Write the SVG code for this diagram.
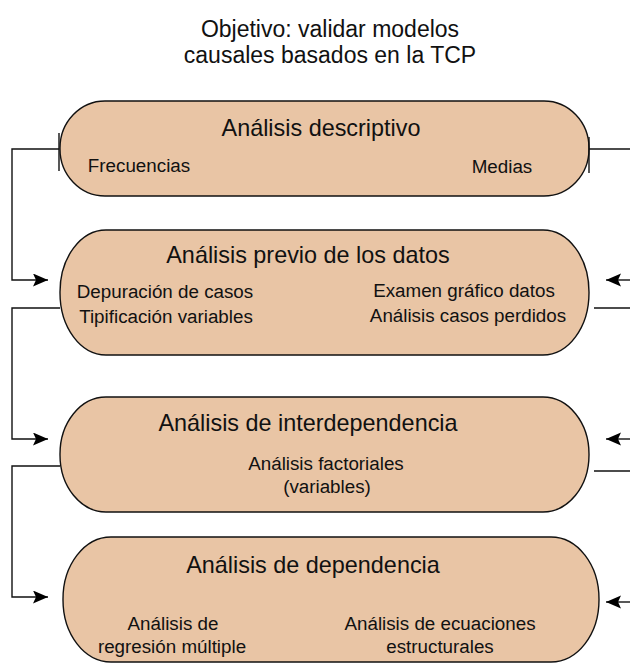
<svg xmlns="http://www.w3.org/2000/svg" width="630" height="665" viewBox="0 0 630 665">
<defs>
<style>
text{font-family:"Liberation Sans",Arial,Helvetica,sans-serif;fill:#111;}
.t{font-size:23px;text-anchor:middle;}
.h{font-size:23.4px;text-anchor:middle;}
.s{font-size:18.8px;text-anchor:middle;}
.node{fill:#E9C5A5;stroke:#111;stroke-width:1.4;}
.c{fill:none;stroke:#111;stroke-width:1.4;}
</style>
<marker id="ah" markerWidth="16" markerHeight="14" refX="15" refY="6.5" orient="auto" markerUnits="userSpaceOnUse">
<path d="M0,0 L15,6.5 L0,13 L3,6.5 Z" fill="#000"/>
</marker>
</defs>
<rect width="630" height="665" fill="#fff"/>
<g id="title">
<text class="t" x="330" y="37">Objetivo: validar modelos</text>
<text class="t" x="330" y="63">causales basados en la TCP</text>
</g>
<g id="node1">
<rect class="node" x="60" y="101" width="529" height="95" rx="45" ry="47"/>
<text class="h" x="321" y="136">Análisis descriptivo</text>
<text class="s" x="139" y="172">Frecuencias</text>
<text class="s" x="502" y="173">Medias</text>
</g>
<g id="node2">
<rect class="node" x="60" y="230" width="529" height="125" rx="46" ry="62"/>
<text class="h" x="308" y="263">Análisis previo de los datos</text>
<text class="s" x="165" y="298">Depuración de casos</text>
<text class="s" x="166" y="323">Tipificación variables</text>
<text class="s" x="464" y="297">Examen gráfico datos</text>
<text class="s" x="468" y="322">Análisis casos perdidos</text>
</g>
<g id="node3">
<rect class="node" x="60" y="397" width="529" height="115" rx="46" ry="57"/>
<text class="h" x="308" y="431">Análisis de interdependencia</text>
<text class="s" x="326" y="470">Análisis factoriales</text>
<text class="s" x="327" y="493">(variables)</text>
</g>
<g id="node4">
<rect class="node" x="63" y="537" width="536" height="125" rx="48" ry="62"/>
<text class="h" x="313" y="573">Análisis de dependencia</text>
<text class="s" x="173" y="630">Análisis de</text>
<text class="s" x="172" y="653">regresión múltiple</text>
<text class="s" x="440" y="630">Análisis de ecuaciones</text>
<text class="s" x="440" y="653">estructurales</text>
</g>
<g id="connectors">
<line class="c" x1="59" y1="133" x2="59" y2="171"/>
<polyline class="c" points="59,149 12,149 12,280 48,280" marker-end="url(#ah)"/>
<line class="c" x1="589" y1="137" x2="589" y2="173"/>
<line class="c" x1="589" y1="149" x2="630" y2="149"/>
<line class="c" x1="630" y1="280" x2="606" y2="280" marker-end="url(#ah)"/>
<polyline class="c" points="60,308 12,308 12,439 48,439" marker-end="url(#ah)"/>
<line class="c" x1="594" y1="308" x2="630" y2="308"/>
<line class="c" x1="630" y1="439" x2="606" y2="439" marker-end="url(#ah)"/>
<polyline class="c" points="60,466 12,466 12,597 48,597" marker-end="url(#ah)"/>
<line class="c" x1="594" y1="471" x2="630" y2="471"/>
<line class="c" x1="630" y1="602" x2="606" y2="602" marker-end="url(#ah)"/>
</g>
</svg>
